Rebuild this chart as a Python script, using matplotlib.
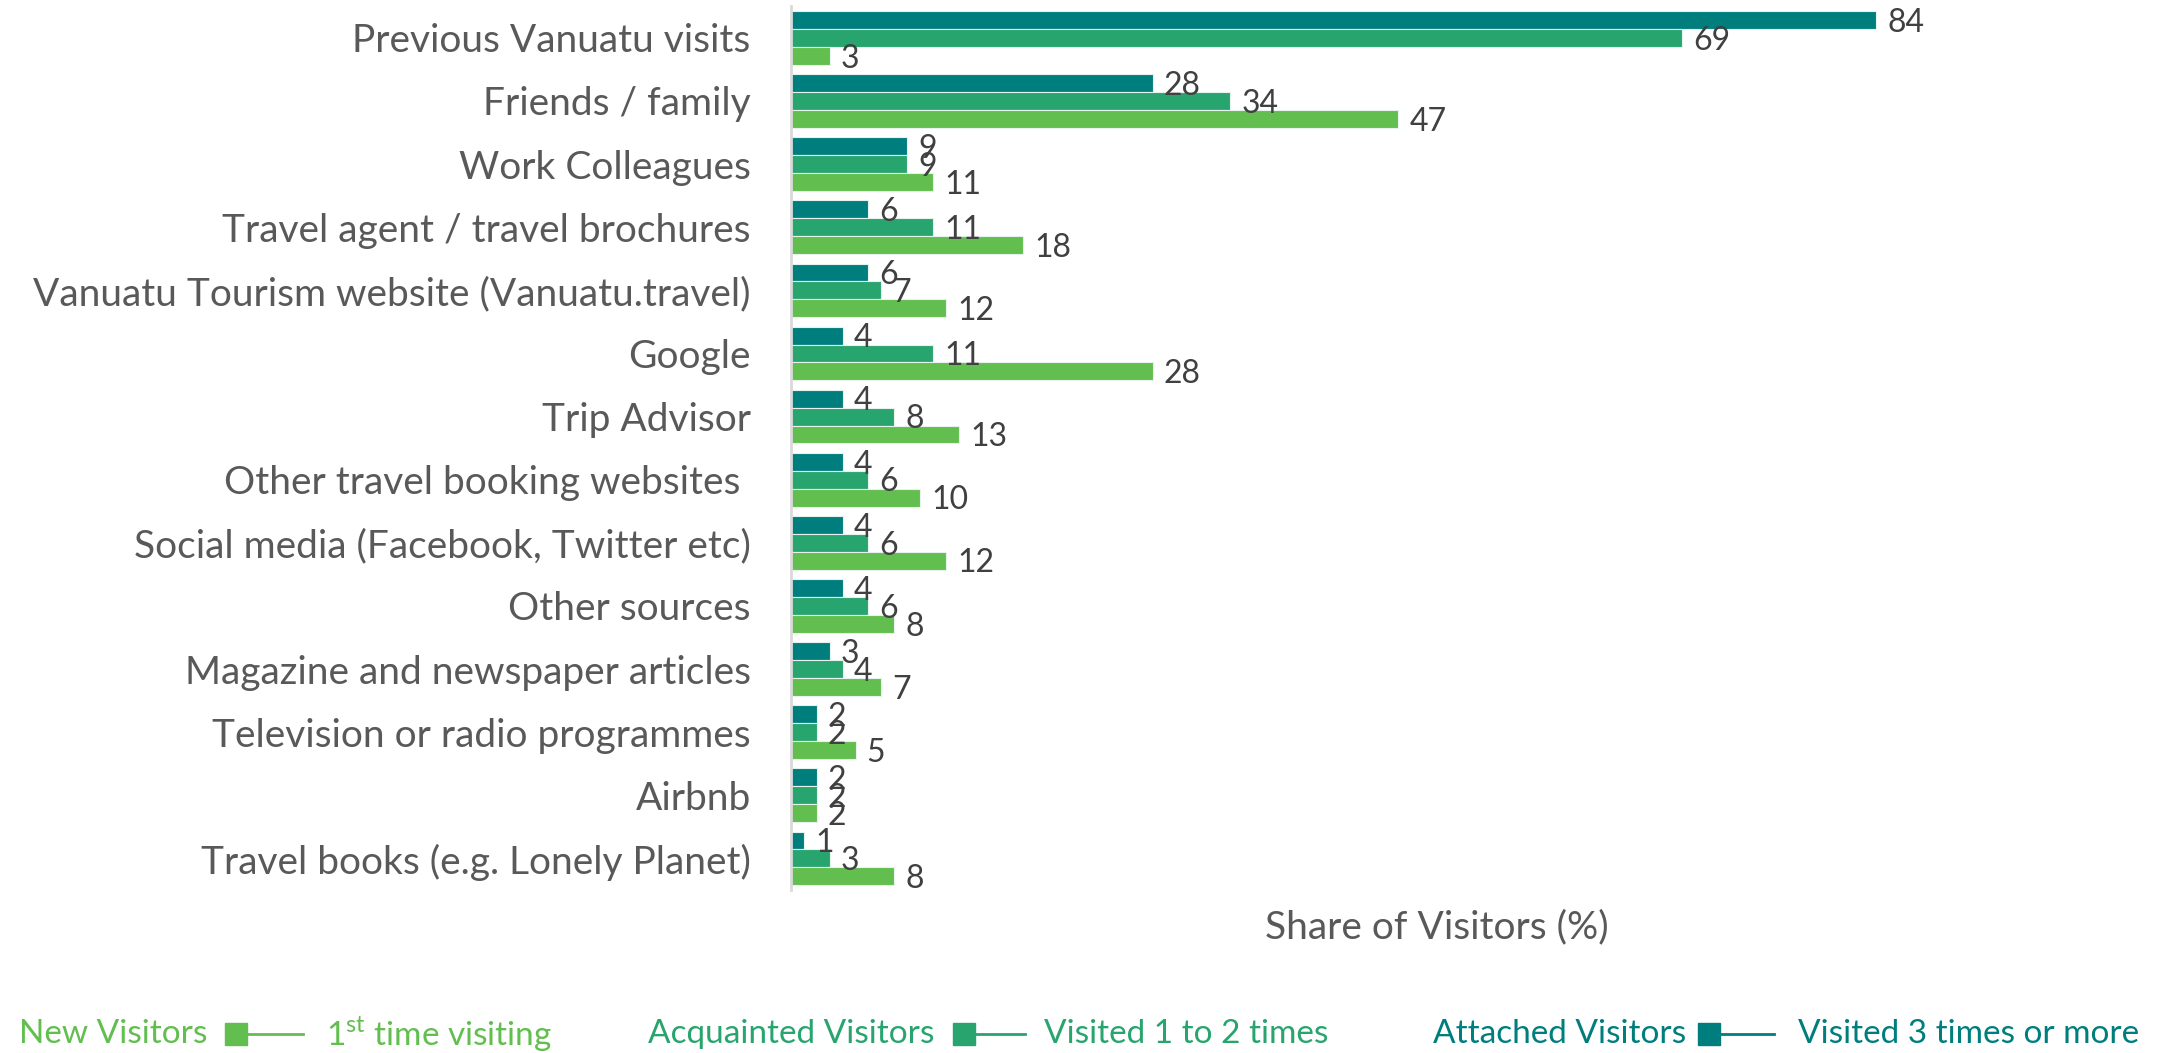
import matplotlib
matplotlib.use("Agg")
import matplotlib.pyplot as plt
from matplotlib.lines import Line2D
import numpy as np

plt.rcParams['font.family'] = ['Lato', 'DejaVu Sans']
plt.rcParams['mathtext.fontset'] = 'custom'
plt.rcParams['mathtext.rm'] = 'Lato'

# information sources, top to bottom
sources = [
    "Previous Vanuatu visits",
    "Friends / family",
    "Work Colleagues",
    "Travel agent / travel brochures",
    "Vanuatu Tourism website (Vanuatu.travel)",
    "Google",
    "Trip Advisor",
    "Other travel booking websites ",
    "Social media (Facebook, Twitter etc)",
    "Other sources",
    "Magazine and newspaper articles",
    "Television or radio programmes",
    "Airbnb",
    "Travel books (e.g. Lonely Planet)",
]
attached = [84, 28, 9, 6, 6, 4, 4, 4, 4, 4, 3, 2, 2, 1]
acquainted = [69, 34, 9, 11, 7, 11, 8, 6, 6, 6, 4, 2, 2, 3]
new = [3, 47, 11, 18, 12, 28, 13, 10, 12, 8, 7, 5, 2, 8]

series = [
    ("Attached Visitors", "Visited 3 times or more", attached, "#007E7E"),
    ("Acquainted Visitors", "Visited 1 to 2 times", acquainted, "#28A56E"),
    ("New Visitors", "1$^{\\mathrm{st}}$ time visiting", new, "#62BE4F"),
]

fig = plt.figure(figsize=(21.77, 10.53), dpi=100)
ax = fig.add_axes([0.3633, 0.1548, 0.5935, 0.8392])

y = np.arange(len(sources))
h = 0.85 / 3
for i, (_, _, vals, col) in enumerate(series):
    pos = y - h + i * h
    bars = ax.barh(pos, vals, height=h, color=col, edgecolor="#E6F2EC", linewidth=0.8)
    for b, v in zip(bars, vals):
        ax.annotate(str(v), (b.get_width(), b.get_y() + b.get_height() / 2),
                    xytext=(8, -2), textcoords="offset points",
                    va="center", ha="left", fontsize=23, color="#404040")

ax.set_xlim(0, 100)
ax.set_ylim(len(sources) - 0.5, -0.5)
ax.set_yticks(y)
ax.set_yticklabels(sources, fontsize=28, color="#595959")
ax.tick_params(axis="y", length=0, pad=29)
ax.set_xticks([])
for s in ["top", "right", "bottom"]:
    ax.spines[s].set_visible(False)
ax.spines["left"].set_color("#D9D9D9")
ax.spines["left"].set_linewidth(2)
ax.set_xlabel("Share of Visitors (%)", fontsize=28, color="#595959", labelpad=14)

# legend row: group name, marker + line, description
legend_items = [
    (new, "New Visitors", "1$^{\\mathrm{st}}$ time visiting", "#62BE4F", 19, 226, 303, 326),
    (acquainted, "Acquainted Visitors", "Visited 1 to 2 times", "#28A56E", 648, 954, 1025, 1044),
    (attached, "Attached Visitors", "Visited 3 times or more", "#007E7E", 1433, 1699, 1774, 1798),
]
W, H = 2177, 1053
ly = 1 - 1034 / H
for _, name, desc, col, x0, xm, xl, xt in legend_items:
    fig.text(x0 / W, ly, name, color=col, fontsize=24, va="center", ha="left")
    fig.add_artist(Line2D([xm / W, xl / W], [ly, ly], color=col, lw=2,
                          transform=fig.transFigure))
    fig.add_artist(Line2D([(xm + 10) / W], [ly], color=col, marker="s", markersize=16,
                          linestyle="none", transform=fig.transFigure))
    fig.text(xt / W, ly, desc, color=col, fontsize=24, va="center", ha="left")

fig.savefig("out.png", dpi=100, facecolor="white")
